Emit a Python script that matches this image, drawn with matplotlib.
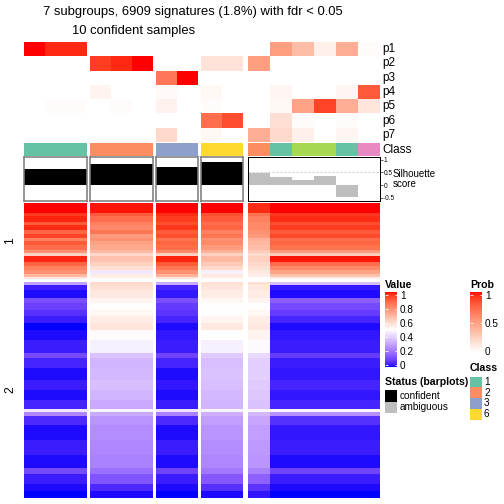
import numpy as np
import matplotlib.pyplot as plt
import matplotlib.colors as mcolors
from matplotlib.colors import ListedColormap

plt.rcParams['font.family'] = ['Liberation Sans', 'DejaVu Sans']

# ---------------- data ----------------
title = "7 subgroups, 6909 signatures (1.8%) with fdr < 0.05"
subtitle = "10 confident samples"

sample_class = [1, 1, 1, 2, 2, 2, 3, 3, 6, 6, 2, 1, 5, 5, 1, 4]
silhouette = [0.65, 0.65, 0.65, 0.83, 0.83, 0.83, 0.71, 0.71, 0.93, 0.93,
              0.46, 0.30, 0.22, 0.34, -0.47, 0.0]
n_confident = 10

prob_names = ['p1', 'p2', 'p3', 'p4', 'p5', 'p6', 'p7']
prob_p1 = [1.0, 0.95, 0.95, 0, 0, 0, 0, 0, 0, 0, 0, 0.5, 0.35, 0.08, 0.42, 0.02]
prob_p2 = [0, 0, 0, 0.9, 0.95, 1.0, 0, 0, 0.15, 0.15, 0.5, 0, 0, 0, 0, 0]
prob_p3 = [0, 0, 0, 0, 0, 0, 0.68, 1.0, 0, 0, 0, 0, 0, 0, 0, 0]
prob_p4 = [0, 0, 0, 0.06, 0, 0, 0.03, 0, 0.04, 0, 0, 0.05, 0, 0, 0.05, 0.8]
prob_p5 = [0, 0.02, 0.02, 0, 0.02, 0, 0.07, 0, 0.02, 0, 0, 0.04, 0.48, 0.88, 0.42, 0.14]
prob_p6 = [0, 0, 0, 0, 0, 0, 0, 0, 0.72, 0.85, 0, 0.17, 0.02, 0, 0.02, 0]
prob_p7 = [0, 0, 0, 0, 0, 0, 0.2, 0, 0.04, 0, 0.42, 0.2, 0.08, 0, 0.05, 0]

class_colors = {1: '#66C2A5', 2: '#FC8D62', 3: '#8DA0CB', 4: '#E78AC3',
                5: '#A6D854', 6: '#FFD92F'}
legend_classes = [1, 2, 3, 6]

# band profile used by each sample: G1, G2, G3, G6, ambiguous-orange, ambiguous-rest
sample_profile = [0, 0, 0, 1, 1, 1, 2, 2, 3, 3, 4, 5, 5, 5, 5, 5]

# row slice 1: signatures per band and value per profile
band_rows_1 = [237, 71, 142, 71, 118, 95, 95, 71, 95, 118, 71, 71, 142, 95, 95, 95, 71, 47]
band_vals_1 = [
    [1.00, 0.99, 1.00, 1.00, 0.97, 1.00],
    [0.95, 0.90, 0.97, 0.92, 0.85, 0.96],
    [0.98, 0.86, 0.95, 0.90, 0.82, 0.97],
    [0.90, 0.82, 0.92, 0.86, 0.80, 0.92],
    [0.97, 0.80, 0.96, 0.88, 0.80, 0.95],
    [0.88, 0.84, 0.90, 0.82, 0.78, 0.90],
    [0.94, 0.76, 0.92, 0.84, 0.76, 0.93],
    [0.82, 0.78, 0.85, 0.78, 0.70, 0.86],
    [0.90, 0.74, 0.88, 0.80, 0.68, 0.88],
    [0.86, 0.72, 0.86, 0.76, 0.67, 0.85],
    [0.78, 0.68, 0.80, 0.70, 0.64, 0.76],
    [0.62, 0.60, 0.62, 0.62, 0.60, 0.64],
    [0.98, 0.66, 0.98, 0.68, 0.62, 0.99],
    [0.88, 0.62, 0.90, 0.64, 0.60, 0.86],
    [0.82, 0.58, 0.84, 0.60, 0.58, 0.80],
    [0.78, 0.45, 0.78, 0.47, 0.56, 0.74],
    [0.68, 0.55, 0.70, 0.56, 0.54, 0.66],
    [0.56, 0.52, 0.57, 0.53, 0.51, 0.55],
]

# row slice 2
band_rows_2 = [71, 118, 189, 118, 166, 142, 166, 166, 237, 307, 118, 237, 284,
               237, 237, 213, 71, 95, 213, 355, 355, 307, 142, 237, 166, 162]
band_vals_2 = [
    [0.30, 0.60, 0.32, 0.58, 0.58, 0.36],
    [0.03, 0.58, 0.04, 0.57, 0.56, 0.02],
    [0.01, 0.56, 0.02, 0.55, 0.55, 0.01],
    [0.12, 0.53, 0.12, 0.52, 0.53, 0.15],
    [0.09, 0.50, 0.08, 0.50, 0.50, 0.11],
    [0.06, 0.52, 0.07, 0.50, 0.52, 0.08],
    [0.03, 0.55, 0.04, 0.53, 0.55, 0.04],
    [0.00, 0.57, 0.01, 0.56, 0.56, 0.01],
    [0.01, 0.51, 0.02, 0.50, 0.53, 0.02],
    [0.03, 0.47, 0.03, 0.47, 0.49, 0.03],
    [0.11, 0.37, 0.10, 0.39, 0.42, 0.08],
    [0.04, 0.34, 0.04, 0.36, 0.40, 0.03],
    [0.01, 0.35, 0.01, 0.37, 0.40, 0.02],
    [0.03, 0.36, 0.02, 0.36, 0.39, 0.04],
    [0.01, 0.34, 0.01, 0.35, 0.38, 0.02],
    [0.04, 0.32, 0.03, 0.34, 0.37, 0.04],
    [0.45, 0.48, 0.44, 0.48, 0.48, 0.48],
    [0.24, 0.32, 0.23, 0.33, 0.35, 0.26],
    [0.05, 0.27, 0.05, 0.29, 0.31, 0.06],
    [0.01, 0.25, 0.01, 0.27, 0.29, 0.02],
    [0.03, 0.24, 0.03, 0.25, 0.28, 0.03],
    [0.01, 0.23, 0.01, 0.24, 0.27, 0.01],
    [0.11, 0.19, 0.10, 0.21, 0.23, 0.10],
    [0.03, 0.13, 0.03, 0.14, 0.16, 0.03],
    [0.01, 0.05, 0.01, 0.06, 0.07, 0.01],
    [0.00, 0.01, 0.00, 0.01, 0.02, 0.00],
]

value_ticks = [0, 0.2, 0.4, 0.6, 0.8, 1]
prob_ticks = [0, 0.5, 1]
sil_ticks = [-0.5, 0, 0.5, 1]


# ---------------- colours (LAB interpolation like colorRamp2) ----------------
M = np.array([[0.4124564, 0.3575761, 0.1804375],
              [0.2126729, 0.7151522, 0.0721750],
              [0.0193339, 0.1191920, 0.9503041]])
WP = np.array([0.95047, 1.0, 1.08883])


def to_lab(c):
    rgb = np.array(mcolors.to_rgb(c))
    lin = np.where(rgb <= 0.04045, rgb / 12.92, ((rgb + 0.055) / 1.055) ** 2.4)
    xyz = M @ lin / WP
    f = np.where(xyz > 0.008856, np.cbrt(xyz), 7.787 * xyz + 16 / 116)
    return np.array([116 * f[1] - 16, 500 * (f[0] - f[1]), 200 * (f[1] - f[2])])


def from_lab(lab):
    fy = (lab[0] + 16) / 116
    f = np.array([fy + lab[1] / 500, fy, fy - lab[2] / 200])
    xyz = np.where(f ** 3 > 0.008856, f ** 3, (f - 16 / 116) / 7.787) * WP
    lin = np.clip(np.linalg.solve(M, xyz), 0, 1)
    rgb = np.where(lin <= 0.0031308, 12.92 * lin, 1.055 * lin ** (1 / 2.4) - 0.055)
    return np.clip(rgb, 0, 1)


def lab_ramp(breaks, colors, n=256):
    labs = [to_lab(c) for c in colors]
    out = []
    for t in np.linspace(breaks[0], breaks[-1], n):
        i = min(np.searchsorted(breaks, t, side='right') - 1, len(breaks) - 2)
        w = (t - breaks[i]) / (breaks[i + 1] - breaks[i])
        out.append(from_lab(labs[i] * (1 - w) + labs[i + 1] * w))
    return ListedColormap(out)


value_cmap = lab_ramp([0, 0.5, 1], ['blue', 'white', 'red'])
prob_cmap = lab_ramp([0, 1], ['white', 'red'])

# ---------------- layout (pixels of a 504 x 504 figure) ----------------
W = H = 504
fig = plt.figure(figsize=(7, 7), dpi=72)


def px_axes(x0, y0, x1, y1):
    return fig.add_axes([x0 / W, 1 - y1 / H, (x1 - x0) / W, (y1 - y0) / H])


col_groups = [(0, 3), (3, 6), (6, 8), (8, 10), (10, 16)]
col_px = [(24, 87), (90, 153), (156, 198), (201, 243), (248, 380)]
prob_y = (42, 142)
class_y = (143.3, 156)
sil_y = (157.3, 200.7)
heat_y = [(203, 279), (282, 498)]

prob = np.array([prob_p1, prob_p2, prob_p3, prob_p4, prob_p5, prob_p6, prob_p7])

for k, ((c0, c1), (x0, x1)) in enumerate(zip(col_groups, col_px)):
    xe = np.arange(c0, c1 + 1)
    idx = list(range(c0, c1))

    # probability heatmap
    ax = px_axes(x0, prob_y[0], x1, prob_y[1])
    ax.pcolormesh(xe, np.arange(len(prob_names) + 1), prob[:, c0:c1], cmap=prob_cmap,
                  vmin=0, vmax=1, antialiased=False, edgecolors='none')
    ax.set_ylim(len(prob_names), 0)
    ax.set_axis_off()

    # class annotation
    ax = px_axes(x0, class_y[0], x1, class_y[1])
    ax.bar(idx, [1] * len(idx), width=1, align='edge',
           color=[class_colors[sample_class[i]] for i in idx], linewidth=0)
    ax.set_xlim(c0, c1)
    ax.set_ylim(0, 1)
    ax.set_axis_off()

    # silhouette barplot
    ax = px_axes(x0, sil_y[0], x1, sil_y[1])
    conf = c1 <= n_confident
    ax.bar(idx, [silhouette[i] for i in idx], width=1, align='edge',
           color='black' if conf else '#BEBEBE', linewidth=0)
    ax.set_xlim(c0, c1)
    ax.set_ylim(-0.62, 1.1)
    ax.set_xticks([])
    for s in ax.spines.values():
        s.set_color('#7F7F7F' if conf else 'black')
        s.set_linewidth(1.6 if conf else 1.0)
    if conf:
        ax.set_yticks([])
    else:
        ax.axhline(0.5, color='#CCCCCC', linestyle='--', linewidth=0.8, dashes=(3, 2))
        ax.yaxis.tick_right()
        ax.set_yticks(sil_ticks)
        ax.set_yticklabels(['-0.5', '0', '0.5', '1'])
        ax.tick_params(axis='y', length=3, width=0.6, pad=1, labelsize=6.5)

    # main heatmap, two row slices
    for rows, vals, (y0, y1) in [(band_rows_1, band_vals_1, heat_y[0]),
                                 (band_rows_2, band_vals_2, heat_y[1])]:
        ax = px_axes(x0, y0, x1, y1)
        mat = np.array(vals)[:, [sample_profile[i] for i in idx]]
        ye = np.concatenate([[0], np.cumsum(rows)])
        ax.pcolormesh(xe, ye, mat, cmap=value_cmap, vmin=0, vmax=1,
                      antialiased=False, edgecolors='none')
        ax.set_ylim(ye[-1], 0)
        ax.set_axis_off()

# ---------------- texts ----------------
fig.text(193 / W, 1 - 15 / H, title, ha='center', va='baseline', fontsize=13)
fig.text(133.5 / W, 1 - 34.3 / H, subtitle, ha='center', va='baseline', fontsize=13)

row_h = (prob_y[1] - prob_y[0]) / len(prob_names)
for i, name in enumerate(prob_names):
    fig.text(382 / W, 1 - (prob_y[0] + (i + 0.5) * row_h) / H, name,
             ha='left', va='center', fontsize=11.8)
fig.text(382 / W, 1 - 150 / H, 'Class', ha='left', va='center', fontsize=11.8)
fig.text(393 / W, 1 - 179 / H, 'Silhouette\nscore', ha='left', va='center',
         fontsize=9.8, linespacing=0.95)

fig.text(10 / W, 1 - 241 / H, '1', rotation=90, ha='center', va='center', fontsize=12)
fig.text(10 / W, 1 - 390 / H, '2', rotation=90, ha='center', va='center', fontsize=12)


# ---------------- legends ----------------
def color_legend(x0, y0, x1, y1, cmap, lo, hi, ticks, labels):
    ax = px_axes(x0, y0, x1, y1)
    ax.imshow(np.linspace(0, 1, 256)[:, None], origin='lower', aspect='auto',
              cmap=cmap, extent=[0, 1, lo, hi])
    ax.set_ylim(lo, hi)
    ax.set_xticks([])
    ax.set_yticks(ticks)
    ax.set_yticklabels(labels)
    ax.tick_params(axis='y', direction='in', length=2.5, width=0.8, color='white',
                   left=True, right=True, labelleft=False, labelright=True,
                   labelsize=10, pad=3)
    for s in ax.spines.values():
        s.set_visible(False)


fig.text(385 / W, 1 - 284.5 / H, 'Value', ha='left', va='center', fontsize=10.5,
         fontweight='bold')
color_legend(385, 292, 397, 367, value_cmap, -0.029, 1.043, value_ticks,
             ['0', '0.2', '0.4', '0.6', '0.8', '1'])

fig.text(470 / W, 1 - 284.5 / H, 'Prob', ha='left', va='center', fontsize=10.5,
         fontweight='bold')
color_legend(470, 292, 482, 352, prob_cmap, -0.027, 1.054, prob_ticks,
             ['0', '0.5', '1'])

fig.text(385 / W, 1 - 381.7 / H, 'Status (barplots)', ha='left', va='center',
         fontsize=10.5, fontweight='bold')
status_labels = ['confident', 'ambiguous']
status_colors = ['black', '#BEBEBE']
ax = px_axes(385, 390, 397, 413.3)
ax.bar([0] * 2, [1] * 2, bottom=[1, 0], width=1, align='edge', color=status_colors, linewidth=0)
ax.set_xlim(0, 1)
ax.set_ylim(0, 2)
ax.set_axis_off()
for i, lab in enumerate(status_labels):
    fig.text(400 / W, 1 - (390 + (i + 0.5) * 11.65) / H, lab, ha='left', va='center',
             fontsize=10)

fig.text(470 / W, 1 - 368 / H, 'Class', ha='left', va='center', fontsize=10.5,
         fontweight='bold')
ax = px_axes(470, 376.5, 482, 419.5)
n = len(legend_classes)
ax.bar([0] * n, [1] * n, bottom=list(range(n - 1, -1, -1)), width=1, align='edge',
       color=[class_colors[c] for c in legend_classes], linewidth=0)
ax.set_xlim(0, 1)
ax.set_ylim(0, n)
ax.set_axis_off()
for i, c in enumerate(legend_classes):
    fig.text(484 / W, 1 - (376.5 + (i + 0.5) * 10.75) / H, str(c), ha='left',
             va='center', fontsize=10)

fig.savefig('out.png', dpi=72)
